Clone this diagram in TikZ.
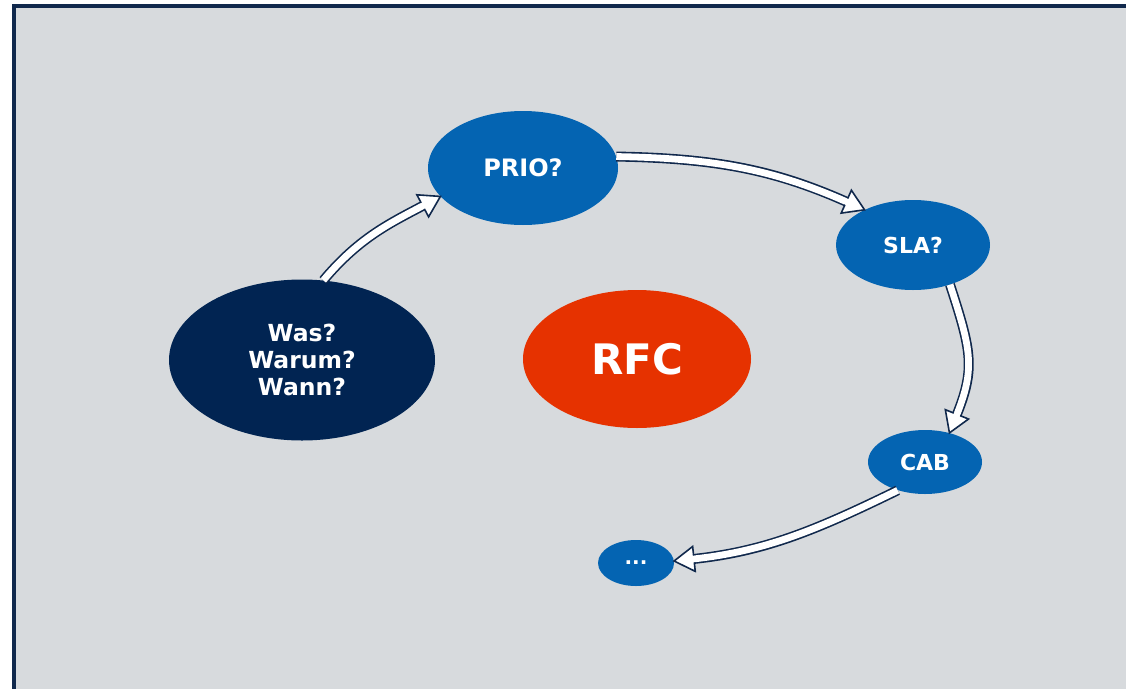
\documentclass[tikz,border=0pt]{standalone}
\usepackage{fontspec}
\setmainfont{DejaVu Sans}
\usetikzlibrary{shapes.geometric,decorations.markings}

\definecolor{paneGray}{RGB}{215,218,221}
\definecolor{frameNavy}{RGB}{16,40,76}
\definecolor{deepNavy}{RGB}{1,36,82}
\definecolor{stepBlue}{RGB}{4,100,178}
\definecolor{rfcRed}{RGB}{230,50,0}

\tikzset{
  bubble/.style={ellipse, inner sep=0pt, draw=none, text=white, align=center},
  shaftout/.style={frameNavy, line width=10pt, shorten >=19pt},
  shaftin/.style={white, line width=6.8pt, shorten >=17pt},
  tipmark/.style={decorate, decoration={markings,
      mark=at position 1 with {
        \fill[white] (0pt,0pt) -- (-20pt,12.5pt) -- (-20pt,-12.5pt) -- cycle;
        \draw[frameNavy, line width=1.6pt, line join=miter]
          (-20pt,3.4pt) -- (-20pt,12.5pt) -- (0pt,0pt) -- (-20pt,-12.5pt) -- (-20pt,-3.4pt);
      }}}
}

% hollow block arrow along a curved path
\newcommand\blockarrow[1]{%
  \draw[shaftout] #1;
  \draw[shaftin] #1;
  \path[tipmark] #1;
}

\begin{document}
\begin{tikzpicture}[x=1pt, y=1pt]
  \clip (0,-688) rectangle (1126,0);
  \fill[white] (0,-688) rectangle (1126,0);
  \draw[frameNavy, line width=4pt, fill=paneGray] (13.5,-5.5) rectangle (1160,-720);

  % process steps
  \node[bubble, fill=deepNavy, minimum width=266pt, minimum height=161pt,
        font=\bfseries\fontsize{23.5}{27}\selectfont] (why) at (302,-360)
        {Was?\\Warum?\\Wann?};
  \node[bubble, fill=rfcRed, minimum width=228pt, minimum height=138pt,
        font=\bfseries\fontsize{42}{48}\selectfont] (rfc) at (637,-359) {RFC};
  \node[bubble, fill=stepBlue, minimum width=190pt, minimum height=114pt,
        font=\bfseries\fontsize{24}{28}\selectfont] (prio) at (523,-168) {PRIO?};
  \node[bubble, fill=stepBlue, minimum width=154pt, minimum height=90pt,
        font=\bfseries\fontsize{22}{26}\selectfont] (sla) at (913,-245) {SLA?};
  \node[bubble, fill=stepBlue, minimum width=114pt, minimum height=64pt,
        font=\bfseries\fontsize{22}{26}\selectfont] (cab) at (925,-462) {CAB};
  \node[bubble, fill=stepBlue, minimum width=76pt, minimum height=46pt,
        font=\bfseries\fontsize{20}{24}\selectfont] (more) at (636,-563) {...};

  % flow between the steps
  \blockarrow{(why.75) to[out=50, in=208] (prio.199)}
  \blockarrow{(prio.7) to[out=-1, in=156] (sla.144)}
  \blockarrow{(sla.-47) to[out=-72, in=68, looseness=1.2] (cab.50)}
  \blockarrow{(cab.226) to[out=206, in=6] (more.3)}
\end{tikzpicture}
\end{document}
